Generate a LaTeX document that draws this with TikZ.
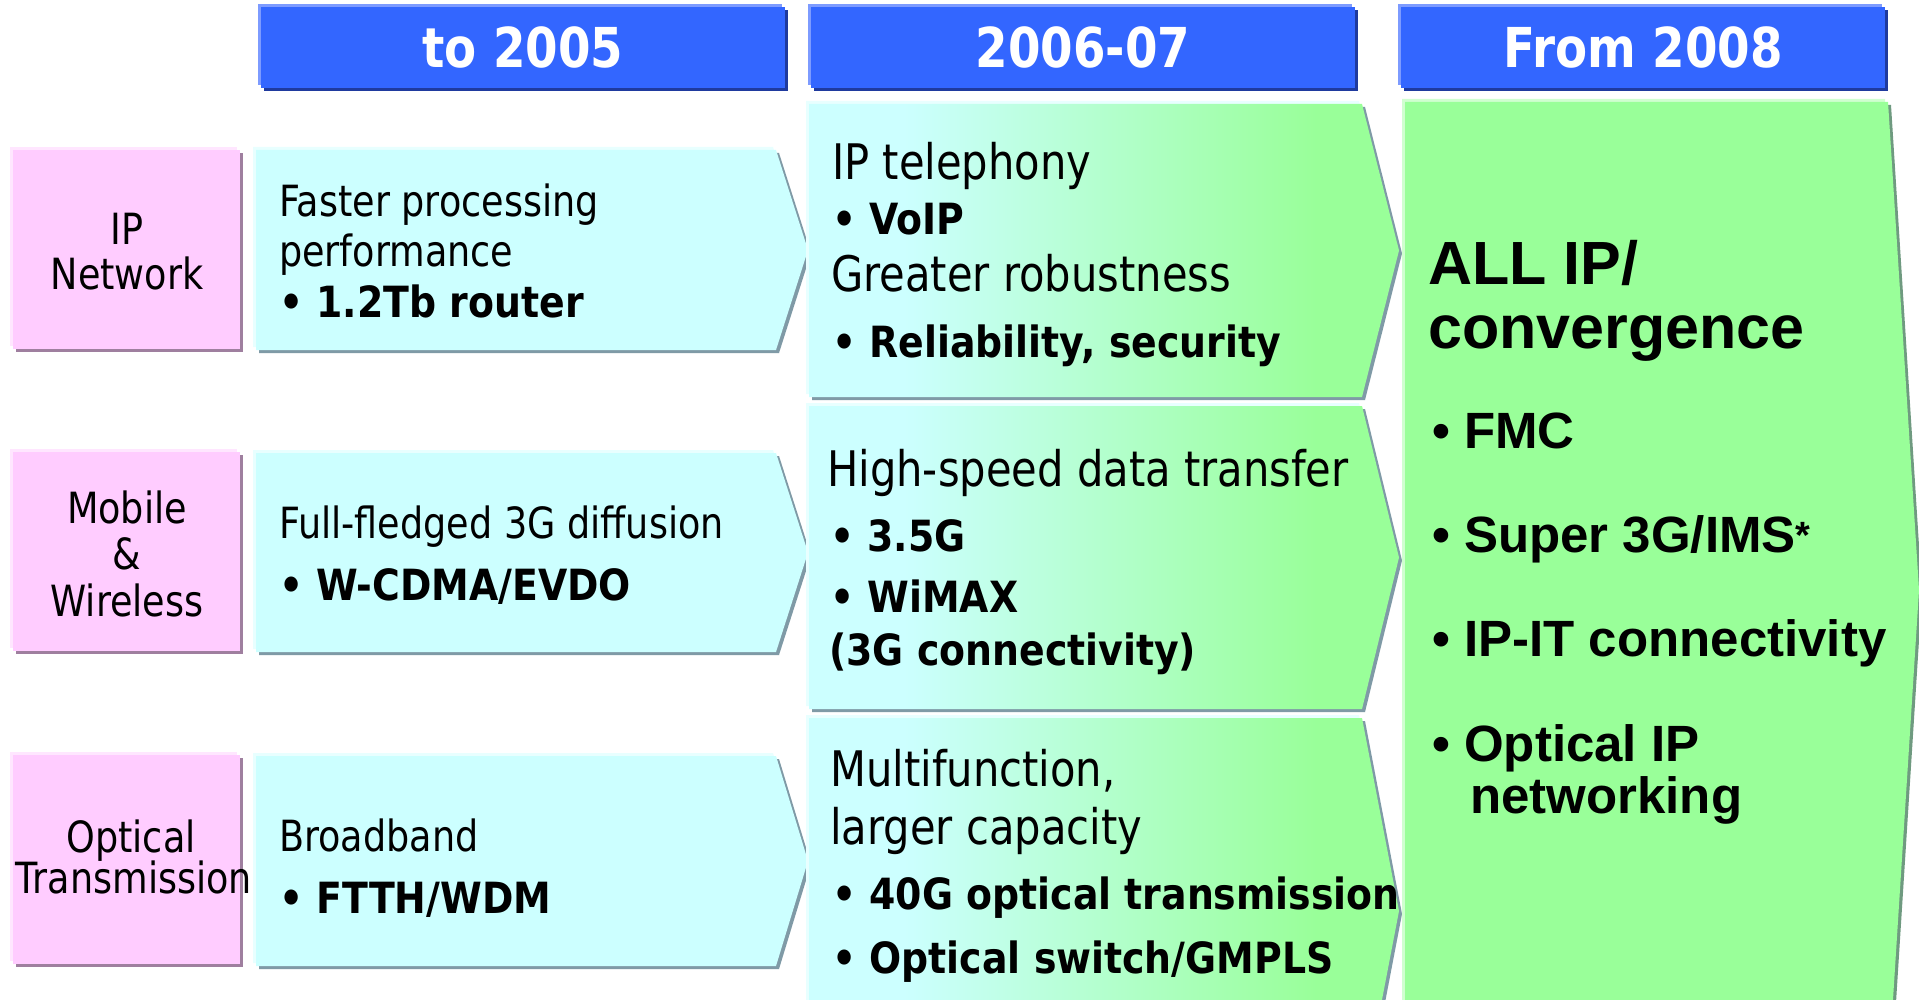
\documentclass[tikz,border=0pt]{standalone}
\usepackage{fontspec}
\setmainfont{DejaVu Sans}
\newfontfamily\condfont[FakeStretch=0.85]{DejaVu Sans}
\newfontfamily\condboldfont[FakeStretch=0.88]{DejaVu Sans}
\newfontfamily\headfont[FakeStretch=0.85]{DejaVu Sans}
\newfontfamily\arialfont{Liberation Sans}

\definecolor{hdblue}{HTML}{3366FF}
\definecolor{hdlight}{HTML}{7D9BFF}
\definecolor{hddark}{HTML}{1F3A9E}
\definecolor{pinkF}{HTML}{FFCCFF}
\definecolor{pinkL}{HTML}{FFE6FF}
\definecolor{pinkD}{HTML}{9F7F9F}
\definecolor{cyanF}{HTML}{CCFFFF}
\definecolor{cyanL}{HTML}{E8FFFF}
\definecolor{cyanD}{HTML}{7F9AA6}
\definecolor{greenF}{HTML}{99FF99}
\definecolor{greenL}{HTML}{D0FFD0}
\definecolor{greenD}{HTML}{6F9A80}

% cyan-to-green fill of the 2006-07 arrows
\pgfdeclarehorizontalshading{midgrad}{100bp}{color(0bp)=(cyanF); color(33bp)=(cyanF); color(68bp)=(greenF); color(100bp)=(greenF)}

% arrow outline: style, left x, shoulder x, tip x, top y, bottom y
\newcommand\chevron[6]{%
  \path[#1] (#2,#5) -- (#3,#5) -- (#4,{(#5+#6)/2}) -- (#3,#6) -- (#2,#6) -- cycle;}

% raised box: light edge, shadow, face
\newcommand\raisedbox[7]{% light, dark, face, x1, y1, x2, y2
  \fill[#1] (#4-3,#5-3) rectangle (#6-3,#7-3);
  \fill[#2] (#4+3,#5+3) rectangle (#6+3,#7+3);
  \fill[#3] (#4,#5) rectangle (#6,#7);}

\newcommand\raisedchevron[8]{% light, dark, face style, left, shoulder, tip, top, bottom
  \chevron{fill=#1,shift={(-3,-3)}}{#4}{#5}{#6}{#7}{#8}
  \chevron{fill=#2,shift={(3,3)}}{#4}{#5}{#6}{#7}{#8}
  \chevron{#3}{#4}{#5}{#6}{#7}{#8}}

\tikzset{
  pinktxt/.style={anchor=base, inner sep=0pt, font=\condfont\fontsize{43}{43}\selectfont},
  ltxt/.style={anchor=base west, inner sep=0pt, font=\condfont\fontsize{43}{43}\selectfont},
  bboldtxt/.style={anchor=base west, inner sep=0pt, font=\condboldfont\bfseries\fontsize{43}{43}\selectfont},
  mtxt/.style={anchor=base west, inner sep=0pt, font=\condfont\fontsize{49}{49}\selectfont},
  rbig/.style={anchor=base west, inner sep=0pt, font=\arialfont\bfseries\fontsize{61}{61}\selectfont},
  rtxt/.style={anchor=base west, inner sep=0pt, font=\arialfont\bfseries\fontsize{51}{51}\selectfont},
  header/.style={fill=hdblue, text=white, inner sep=0pt, minimum height=81pt,
    font=\headfont\bfseries\fontsize{55}{55}\selectfont},
}

\begin{document}
\begin{tikzpicture}[x=1pt,y=-1pt]
\fill[white] (0,0) rectangle (1919,1000);
\clip (0,0) rectangle (1919,1000);

% column headers
\raisedbox{hdlight}{hddark}{hdblue}{261}{7}{785}{88}
\raisedbox{hdlight}{hddark}{hdblue}{811}{7}{1355}{88}
\raisedbox{hdlight}{hddark}{hdblue}{1401}{7}{1885}{88}
\node[header, minimum width=524pt] (hA) at (523,47.5) {to 2005};
\node[header, minimum width=544pt] (hB) at (1083,47.5) {2006-07};
\node[header, minimum width=484pt] (hC) at (1643,47.5) {From 2008};

% row labels
\raisedbox{pinkL}{pinkD}{pinkF}{13}{150}{240}{349}
\raisedbox{pinkL}{pinkD}{pinkF}{13}{452}{240}{651}
\raisedbox{pinkL}{pinkD}{pinkF}{13}{755}{240}{964}

% to 2005 arrows
\raisedchevron{cyanL}{cyanD}{fill=cyanF}{256}{776}{808}{150}{350}
\raisedchevron{cyanL}{cyanD}{fill=cyanF}{256}{776}{808}{453}{652}
\raisedchevron{cyanL}{cyanD}{fill=cyanF}{256}{776}{808}{756}{966}

% 2006-07 arrows
\raisedchevron{cyanL}{cyanD}{shade,shading=midgrad}{809}{1362}{1399}{104}{397}
\raisedchevron{cyanL}{cyanD}{shade,shading=midgrad}{809}{1362}{1399}{406}{709}
\raisedchevron{cyanL}{cyanD}{shade,shading=midgrad}{809}{1362}{1399}{718}{1104}

% from 2008 arrow
\raisedchevron{greenL}{greenD}{fill=greenF}{1405}{1888}{1919}{102}{1078}

% row label texts
\node[pinktxt] (ipA) at (127,245) {IP};
\node[pinktxt] (ipB) at (127,290) {Network};
\node[pinktxt] (mwA) at (127,523) {Mobile};
\node[pinktxt] (mwB) at (127,569) {\&};
\node[pinktxt] (mwC) at (127,616) {Wireless};
\node[pinktxt] (otA) at (131,852) {Optical};
\node[pinktxt] (otB) at (134,893) {Transmission};

% to 2005 texts
\node[ltxt] (a1) at (279,217) {Faster processing};
\node[ltxt] (a2) at (279,267) {performance};
\node[bboldtxt] (a3) at (279,317) {• 1.2Tb router};
\node[ltxt] (b1) at (279,538) {Full-fledged 3G diffusion};
\node[bboldtxt] (b2) at (279,600) {• W-CDMA/EVDO};
\node[ltxt] (c1) at (279,851) {Broadband};
\node[bboldtxt] (c2) at (279,913) {• FTTH/WDM};

% 2006-07 texts
\node[mtxt] (d1) at (832,180) {IP telephony};
\node[bboldtxt] (d2) at (832,235) {• VoIP};
\node[mtxt] (d3) at (831,291) {Greater robustness};
\node[bboldtxt] (d4) at (832,357) {• Reliability, security};
\node[mtxt] (e1) at (827,486) {High-speed data transfer};
\node[bboldtxt] (e2) at (830,551) {• 3.5G};
\node[bboldtxt] (e3) at (830,612) {• WiMAX};
\node[bboldtxt] (e4) at (829,665) {(3G connectivity)};
\node[mtxt] (f1) at (830,786) {Multifunction,};
\node[mtxt] (f2) at (830,844) {larger capacity};
\node[bboldtxt] (f3) at (832,909) {• 40G optical transmission};
\node[bboldtxt] (f4) at (832,973) {• Optical switch/GMPLS};

% from 2008 texts
\node[rbig] (g1) at (1428,284) {ALL IP/};
\node[rbig] (g2) at (1428,348) {convergence};
\node[rtxt] (g3) at (1432,448) {• FMC};
\node[rtxt] (g4) at (1432,552) {• Super 3G/IMS{\fontsize{38}{38}\selectfont\raisebox{4pt}{*}}};
\node[rtxt] (g5) at (1432,656) {• IP-IT connectivity};
\node[rtxt] (g6) at (1432,761) {• Optical IP};
\node[rtxt] (g7) at (1470,813) {networking};
\end{tikzpicture}
\end{document}
